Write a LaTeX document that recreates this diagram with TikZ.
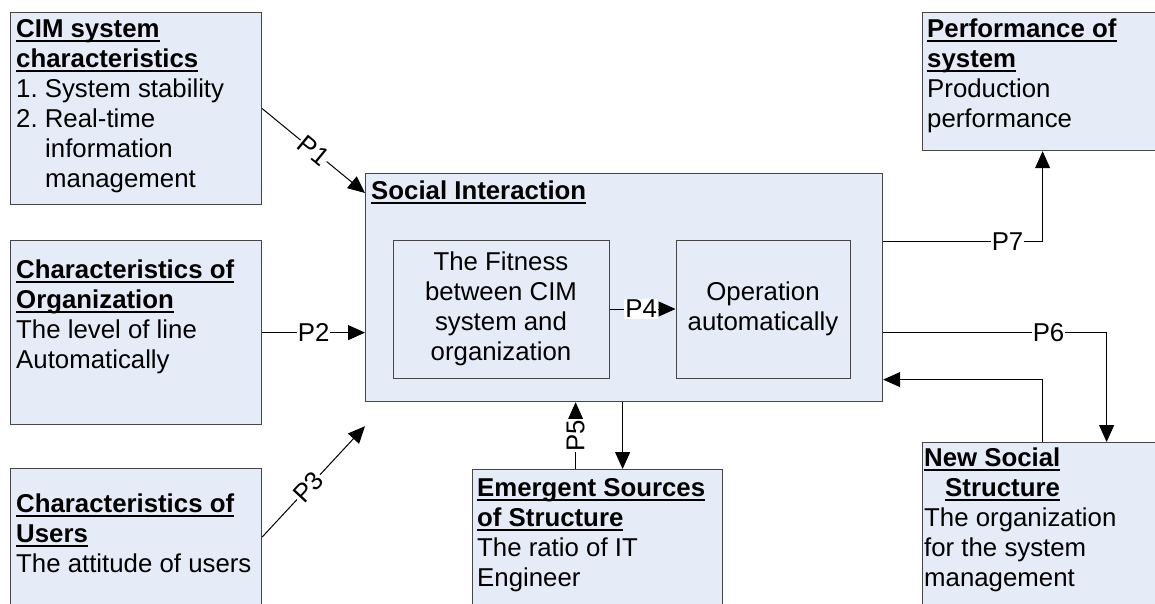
\documentclass[tikz,border=0pt]{standalone}
\usepackage{fontspec}
\setmainfont{Liberation Sans}
\usetikzlibrary{arrows.meta}

\definecolor{boxfill}{RGB}{230,236,247}
\definecolor{boxline}{RGB}{70,70,70}
\newsavebox{\headbox}
\newcommand{\boxhead}[1]{\sbox{\headbox}{\textbf{#1}}\rlap{\rule[-4.5pt]{\wd\headbox}{2pt}}\usebox{\headbox}}

\tikzset{
	box/.style={draw=boxline,line width=1.2pt,fill=boxfill,anchor=north west,inner sep=0pt},
	inbox/.style={draw=boxline,line width=1pt,fill=boxfill,align=center,inner sep=0pt,minimum height=138pt},
	txt/.style={anchor=north west,align=left,inner sep=0pt},
	conn/.style={line width=1pt,-{Triangle[length=17pt,width=15pt]}},
	plab/.style={fill=white,inner sep=1pt},
}

\begin{document}
\begin{tikzpicture}[x=1pt,y=-1pt,every node/.style={font=\fontsize{25.8pt}{30pt}\selectfont\frenchspacing}]
		\useasboundingbox (0,0) rectangle (1155,603);
		\clip (0,0) rectangle (1155,603);
		
		%left column
		\node[box,minimum width=251pt,minimum height=192pt] (cim) at (10,12) {};
		\node[txt] (cimtxt) at ([xshift=6pt,yshift=-7pt]cim.north west) {\boxhead{CIM system}\\\boxhead{characteristics}\\1. System stability\\2. Real-time\\\hspace*{29pt}information\\\hspace*{29pt}management};
		\node[box,minimum width=251pt,minimum height=184pt] (org) at (10,240) {};
		\node[txt] (orgtxt) at ([xshift=6pt,yshift=-20pt]org.north west) {\boxhead{Characteristics of}\\\boxhead{Organization}\\The level of line\\Automatically};
		\node[box,minimum width=251pt,minimum height=150pt] (users) at (10,468) {};
		\node[txt] (userstxt) at ([xshift=6pt,yshift=-26pt]users.north west) {\boxhead{Characteristics of}\\\boxhead{Users}\\The attitude of users};
		
		%social interaction
		\node[box,minimum width=517pt,minimum height=228pt] (si) at (365,173) {};
		\node[txt] (sititle) at ([xshift=6pt,yshift=-8pt]si.north west) {\boxhead{Social Interaction}};
		\node[inbox,minimum width=216pt] (fit) at (501,309) {The Fitness\\between CIM\\system and\\organization};
		\node[inbox,minimum width=174pt] (oper) at (763,309) {Operation\\automatically};
		
		%bottom and right
		\node[box,minimum width=250pt,minimum height=150pt] (emerg) at (472,469) {};
		\node[txt] (emergtxt) at ([xshift=5pt,yshift=-9pt]emerg.north west) {\boxhead{Emergent Sources}\\\boxhead{of Structure}\\The ratio of IT\\Engineer};
		\node[box,minimum width=240pt,minimum height=138pt] (perf) at (922,12) {};
		\node[txt] (perftxt) at ([xshift=5pt,yshift=-7pt]perf.north west) {\boxhead{Performance of}\\\boxhead{system}\\Production\\performance};
		\node[box,minimum width=240pt,minimum height=180pt] (nss) at (922,442) {};
		\node[txt] (nsstxt) at ([xshift=2pt,yshift=-6pt]nss.north west) {\boxhead{New Social}\\\hspace*{21pt}\boxhead{Structure}\\The organization\\for the system\\management};
		
		%end points
		\coordinate (inP1) at ([yshift=-20pt]si.north west);
		\coordinate (outP3) at ([yshift=-69pt]users.north east);
		\coordinate (inP3) at ([yshift=-24pt]si.south west);
		\coordinate (emP5) at ([xshift=-22pt]emerg.north);
		\coordinate (emIn) at ([xshift=25pt]emerg.north);
		\coordinate (siP7) at ([yshift=46pt]si.east);
		\coordinate (siP6) at ([yshift=-45pt]si.east);
		\coordinate (siBack) at ([yshift=-92pt]si.east);
		\coordinate (nssIn) at ([xshift=64pt]nss.north);
		
		%arrows
		\draw[conn] (cim.east) -- node[plab,sloped]{P1} (inP1);
		\draw[conn] (org.east) -- node[plab]{P2} (org.east -| si.west);
		\draw[conn] (outP3) -- node[plab,sloped,pos=0.45]{P3} (inP3);
		\draw[conn] (fit) -- node[plab,pos=0.48]{P4} (oper);
		\draw[conn] (emP5) -- node[plab,sloped]{P5} (emP5 |- si.south);
		\draw[conn] (emIn |- si.south) -- (emIn);
		\draw[conn] (siP7) -- node[plab,pos=0.78]{P7} (siP7 -| perf.south) -- (perf.south);
		\draw[conn] (siP6) -- node[plab,pos=0.74]{P6} (siP6 -| nssIn) -- (nssIn);
		\draw[conn] (nss.north) |- (siBack);
		
\end{tikzpicture}
\end{document}
